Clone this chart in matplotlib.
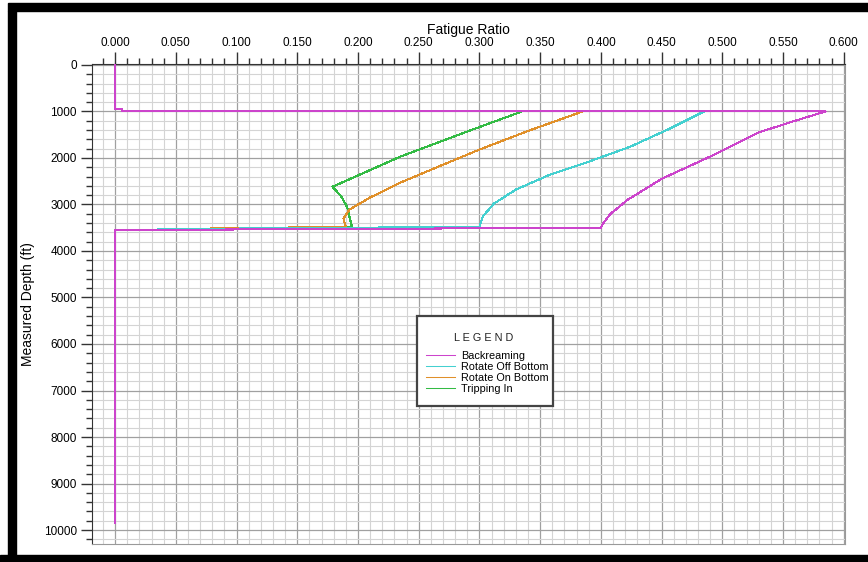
import numpy as np
import matplotlib.pyplot as plt
from matplotlib.patches import Rectangle
from matplotlib.ticker import MultipleLocator, FormatStrFormatter

plt.rcParams['font.family'] = ['Liberation Sans', 'DejaVu Sans']

# fatigue ratio vs measured depth (ft) for each operation
back_x = [0.0, 0.0, 0.006, 0.006, 0.585, 0.56, 0.53, 0.49, 0.45, 0.422, 0.408, 0.402, 0.400, 0.0, 0.0]
back_d = [0, 940, 940, 1000, 1000, 1200, 1450, 1970, 2450, 2900, 3200, 3400, 3500, 3550, 9850]

off_x = [0.006, 0.485, 0.455, 0.424, 0.39, 0.358, 0.33, 0.312, 0.303, 0.300, 0.035]
off_d = [1000, 1000, 1390, 1760, 2080, 2360, 2680, 2980, 3250, 3480, 3530]

on_x = [0.006, 0.385, 0.34, 0.30, 0.265, 0.235, 0.21, 0.193, 0.188, 0.190, 0.07]
on_d = [1000, 1000, 1420, 1820, 2200, 2530, 2850, 3110, 3300, 3480, 3520]

trip_x = [0.006, 0.335, 0.285, 0.235, 0.179, 0.186, 0.191, 0.195, 0.10]
trip_d = [1000, 1000, 1480, 1970, 2620, 2820, 3050, 3480, 3510]

names = ["Backreaming", "Rotate Off Bottom", "Rotate On Bottom", "Tripping In"]
colors = ["#cc44cc", "#44d0d0", "#e0902a", "#33bb44"]

fig = plt.figure(figsize=(8.68, 5.62), dpi=100)
ax = fig.add_axes([92/868, 1 - 544/562, 753/868, 480/562])

series = [(back_x, back_d), (off_x, off_d), (on_x, on_d), (trip_x, trip_d)]
zs = [5, 4, 3, 2]
for (x, d), name, c, z in zip(series, names, colors, zs):
    ax.plot(x, d, color=c, lw=0.75, label=name, zorder=z, antialiased=False)

ax.set_xlim(-0.019, 0.601)
ax.set_ylim(10300, -20)

ax.xaxis.set_major_locator(MultipleLocator(0.05))
ax.xaxis.set_minor_locator(MultipleLocator(0.01))
ax.xaxis.set_major_formatter(FormatStrFormatter('%.3f'))
ax.yaxis.set_major_locator(MultipleLocator(1000))
ax.yaxis.set_minor_locator(MultipleLocator(200))

ax.xaxis.tick_top()
ax.xaxis.set_label_position('top')
ax.tick_params(axis='x', which='major', length=9, width=1, color='#333333', labelsize=8.5, pad=2)
ax.tick_params(axis='x', which='minor', length=4, width=1, color='#333333')
ax.tick_params(axis='y', which='major', length=8, width=1, color='#333333', labelsize=8.5, pad=3)
ax.tick_params(axis='y', which='minor', length=4, width=1, color='#333333')

ax.grid(which='minor', color='#d4d4d4', lw=0.8)
ax.grid(which='major', color='#a0a0a0', lw=0.9)
ax.set_axisbelow(True)

for side in ['top', 'left']:
    ax.spines[side].set_color('#333333')
for side in ['right', 'bottom']:
    ax.spines[side].set_color('#999999')

ax.set_xlabel("Fatigue Ratio", fontsize=10, labelpad=2)
ax.set_ylabel("Measured Depth (ft)", fontsize=10, labelpad=6)

# legend panel: white box, spaced title, then the entries
ax.add_patch(Rectangle((0.4316, 0.2875), 0.1806, 0.1875, transform=ax.transAxes,
                       facecolor='white', edgecolor='#444444', lw=1.6, zorder=6))
ax.text(0.5205, 0.429, "L E G E N D", transform=ax.transAxes, ha='center', va='center',
        fontsize=7.8, color='#222222', zorder=7)
leg = ax.legend(loc='upper left', bbox_to_anchor=(0.4436, 0.402), fontsize=7.8,
                frameon=False, handlelength=2.7, handletextpad=0.55, labelspacing=0.08,
                borderpad=0, borderaxespad=0)
leg.set_zorder(8)

# black frame round the picture
for rect in [(8/868, 0, 8/868, 551/562), (8/868, 1 - 11/562, 1, 8/562), (0, 0, 1, 7/562)]:
    fig.patches.append(Rectangle(rect[:2], rect[2], rect[3], transform=fig.transFigure,
                                 color='black', zorder=10))

plt.savefig("out.png", dpi=100)
